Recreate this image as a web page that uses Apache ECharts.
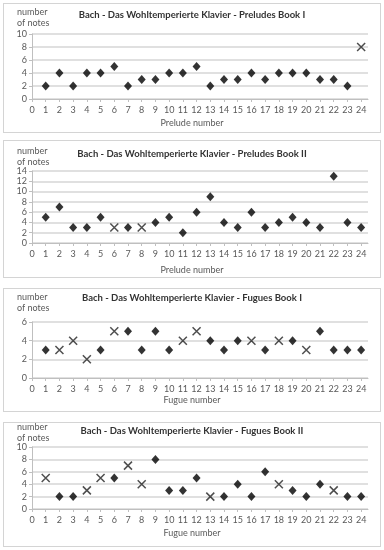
<!DOCTYPE html>
<html>
<head>
<meta charset="utf-8">
<script src="https://cdn.jsdelivr.net/npm/echarts@6/dist/echarts.min.js"></script>
<style>
  html, body { margin: 0; padding: 0; background: #fff; }
  body { width: 384px; height: 550px; position: relative; overflow: hidden; }
  .panel { position: absolute; box-sizing: border-box; border: 1px solid #d4d4d4; background: #fff; }
</style>
</head>
<body>
<div id="p1" class="panel" style="left:3px;top:3px;width:378px;height:130px;"></div>
<div id="p2" class="panel" style="left:3px;top:140px;width:378px;height:138px;"></div>
<div id="p3" class="panel" style="left:3px;top:288px;width:378px;height:124px;"></div>
<div id="p4" class="panel" style="left:3px;top:422px;width:378px;height:125px;"></div>
<script>
// ---- data ----
const pieceNumbers = [1,2,3,4,5,6,7,8,9,10,11,12,13,14,15,16,17,18,19,20,21,22,23,24];
const xTickLabels = [0,1,2,3,4,5,6,7,8,9,10,11,12,13,14,15,16,17,18,19,20,21,22,23,24];

const preludesBookI      = [2,4,2,4,4,5,2,3,3,4,4,5,2,3,3,4,3,4,4,4,3,3,2,8];
const preludesBookICross = [24];

const preludesBookII      = [5,7,3,3,5,3,3,3,4,5,2,6,9,4,3,6,3,4,5,4,3,13,4,3];
const preludesBookIICross = [6,8];

const fuguesBookI      = [3,3,4,2,3,5,5,3,5,3,4,5,4,3,4,4,3,4,4,3,5,3,3,3];
const fuguesBookICross = [2,3,4,6,11,12,16,18,20];

const fuguesBookII      = [5,2,2,3,5,5,7,4,8,3,3,5,2,2,4,2,6,4,3,2,4,3,2,2];
const fuguesBookIICross = [1,4,5,7,8,13,18,22];

const titles = [
  'Bach - Das Wohltemperierte Klavier - Preludes Book I',
  'Bach - Das Wohltemperierte Klavier - Preludes Book II',
  'Bach - Das Wohltemperierte Klavier - Fugues Book I',
  'Bach - Das Wohltemperierte Klavier - Fugues Book II'
];
const xNames = ['Prelude number', 'Prelude number', 'Fugue number', 'Fugue number'];
const yMaxes = [10, 14, 6, 10];

// ---- layout (per panel, inner coordinates) ----
const layouts = [
  { top: 30, bottom: 33, titleY: 12, numY: 8,  xNameY: 121 },
  { top: 30, bottom: 34, titleY: 14, numY: 10, xNameY: 131 },
  { top: 33, bottom: 33, titleY: 10, numY: 8,  xNameY: 113 },
  { top: 24, bottom: 37, titleY: 9,  numY: 4,  xNameY: 112 }
];

const FONT = 'Lato, "Open Sans", sans-serif';
const TXT = '#595959';
const CROSS = 'path://M0 0L10 10M10 0L0 10';

function build(values, crosses, idx) {
  const L = layouts[idx];
  const dia = [], crs = [];
  pieceNumbers.forEach((n, i) => {
    if (crosses.indexOf(n) >= 0) crs.push([n, values[i]]);
    else dia.push([n, values[i]]);
  });
  return {
    animation: false,
    grid: { left: 28, right: 12, top: L.top, bottom: L.bottom, containLabel: false },
    xAxis: {
      type: 'value', min: 0, max: 24.5, interval: 1,
      axisLine: { show: true, lineStyle: { color: '#bfbfbf', width: 1 } },
      axisTick: { show: true, length: 3, lineStyle: { color: '#bfbfbf' }, customValues: xTickLabels },
      axisLabel: { customValues: xTickLabels, color: TXT, fontFamily: FONT, fontSize: 9, margin: 7 },
      splitLine: { show: false }
    },
    yAxis: {
      type: 'value', min: 0, max: yMaxes[idx], interval: 2,
      axisLine: { show: true, lineStyle: { color: '#bfbfbf', width: 1 } },
      axisTick: { show: true, length: 3, lineStyle: { color: '#bfbfbf' } },
      axisLabel: { color: TXT, fontFamily: FONT, fontSize: 9, margin: 5 },
      splitLine: { show: true, lineStyle: { color: '#d6d6d6', width: 1.5 } }
    },
    graphic: [
      { type: 'text', left: 'center', top: L.titleY - 6,
        style: { text: titles[idx], fill: '#333', font: 'bold 9.5px ' + FONT } },
      { type: 'text', left: 13, top: L.numY - 5,
        style: { text: 'number\nof notes', fill: TXT, font: '9px ' + FONT, lineHeight: 10.5 } },
      { type: 'text', left: 'center', top: L.xNameY - 6,
        style: { text: xNames[idx], fill: TXT, font: '9px ' + FONT } }
    ],
    series: [
      { type: 'scatter', data: dia, symbol: 'diamond', symbolSize: [8, 9],
        itemStyle: { color: '#000' }, z: 3 },
      { type: 'scatter', data: crs, symbol: CROSS, symbolSize: 8,
        itemStyle: { color: 'none', borderColor: '#222', borderWidth: 1.5 }, z: 3 }
    ]
  };
}

const sets = [
  [preludesBookI, preludesBookICross],
  [preludesBookII, preludesBookIICross],
  [fuguesBookI, fuguesBookICross],
  [fuguesBookII, fuguesBookIICross]
];
['p1','p2','p3','p4'].forEach((id, i) => {
  const c = echarts.init(document.getElementById(id), null, { renderer: 'canvas' });
  c.setOption(build(sets[i][0], sets[i][1], i));
});
</script>
</body>
</html>
